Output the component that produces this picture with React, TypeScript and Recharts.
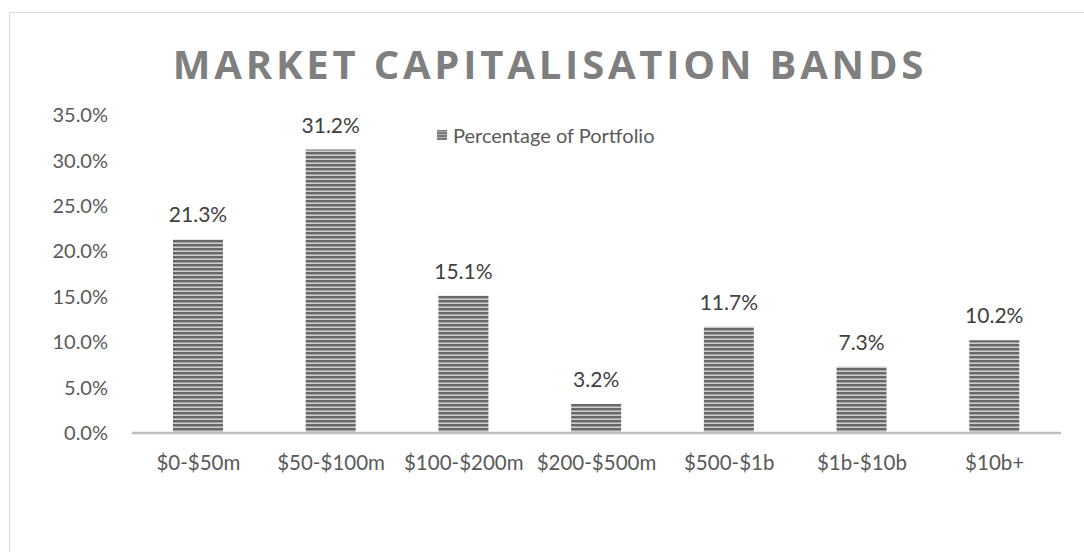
import { BarChart, Bar, XAxis, YAxis, LabelList } from 'recharts';

const bands = ['$0-$50m', '$50-$100m', '$100-$200m', '$200-$500m', '$500-$1b', '$1b-$10b', '$10b+'];
const portfolioPct = [21.3, 31.2, 15.1, 3.2, 11.7, 7.3, 10.2];
const yTicks = [0, 5, 10, 15, 20, 25, 30, 35];
const seriesName = 'Percentage of Portfolio';

const data = bands.map((band, i) => ({ band, pct: portfolioPct[i] }));

const FONT = 'Lato, "Open Sans", sans-serif';

export default function App() {
  return (
    <div style={{ position: 'fixed', left: 0, top: 0, width: 1084, height: 552, overflow: 'hidden', background: '#fff' }}>
      {/* chart area frame, runs off the right and bottom edge */}
      <div style={{ position: 'absolute', left: 9, top: 12, width: 1100, height: 600, border: '1px solid #d9d9d9' }} />
      <div
        style={{
          position: 'absolute',
          left: 0,
          width: 1100,
          top: 38,
          textAlign: 'center',
          fontFamily: '"Open Sans", sans-serif',
          fontWeight: 700,
          fontSize: 40,
          letterSpacing: 3.8,
          color: '#7f7f7f',
          lineHeight: '52px',
        }}
      >
        MARKET CAPITALISATION BANDS
      </div>
      <div style={{ position: 'absolute', left: 0, top: 0 }}>
        <BarChart
          width={1084}
          height={552}
          data={data}
          margin={{ top: 115, right: 23, bottom: 89, left: 40 }}
        >
          <defs>
            <pattern id="stripes" width="8" height="4" patternUnits="userSpaceOnUse">
              <rect width="8" height="4" fill="#cdcdcd" />
              <rect y="0" width="8" height="2" fill="#686868" />
              <rect y="2" width="8" height="1" fill="#a2a2a2" />
            </pattern>
          </defs>
          <XAxis
            dataKey="band"
            axisLine={{ stroke: '#bfbfbf', strokeWidth: 2.5 }}
            tickLine={false}
            tickMargin={16}
            height={30}
            tick={{ fill: '#595959', fontSize: 20.5, fontFamily: FONT }}
            interval={0}
          />
          <YAxis
            domain={[0, 35]}
            ticks={yTicks}
            axisLine={false}
            tickLine={false}
            width={92}
            tickMargin={18}
            tickFormatter={(v: number) => `${v.toFixed(1)}%`}
            tick={{ fill: '#595959', fontSize: 20, fontFamily: FONT }}
          />
          <Bar dataKey="pct" name={seriesName} fill="url(#stripes)" barSize={50} isAnimationActive={false}>
            <LabelList
              dataKey="pct"
              position="top"
              offset={17}
              formatter={(v: number) => `${v.toFixed(1)}%`}
              style={{ fill: '#404040', fontSize: 21, fontFamily: FONT }}
            />
          </Bar>
        </BarChart>
      </div>
      {/* legend */}
      <div
        style={{
          position: 'absolute',
          left: 437,
          top: 122,
          display: 'flex',
          alignItems: 'center',
          fontFamily: FONT,
          fontSize: 20,
          color: '#595959',
          lineHeight: '26px',
        }}
      >
        <svg width={10} height={10} style={{ marginRight: 6 }}>
          <rect width={10} height={10} fill="#7a7a7a" />
          <rect y={1} width={10} height={1} fill="#b0b0b0" />
          <rect y={4} width={10} height={1} fill="#b0b0b0" />
          <rect y={7} width={10} height={1} fill="#b0b0b0" />
        </svg>
        {seriesName}
      </div>
    </div>
  );
}
